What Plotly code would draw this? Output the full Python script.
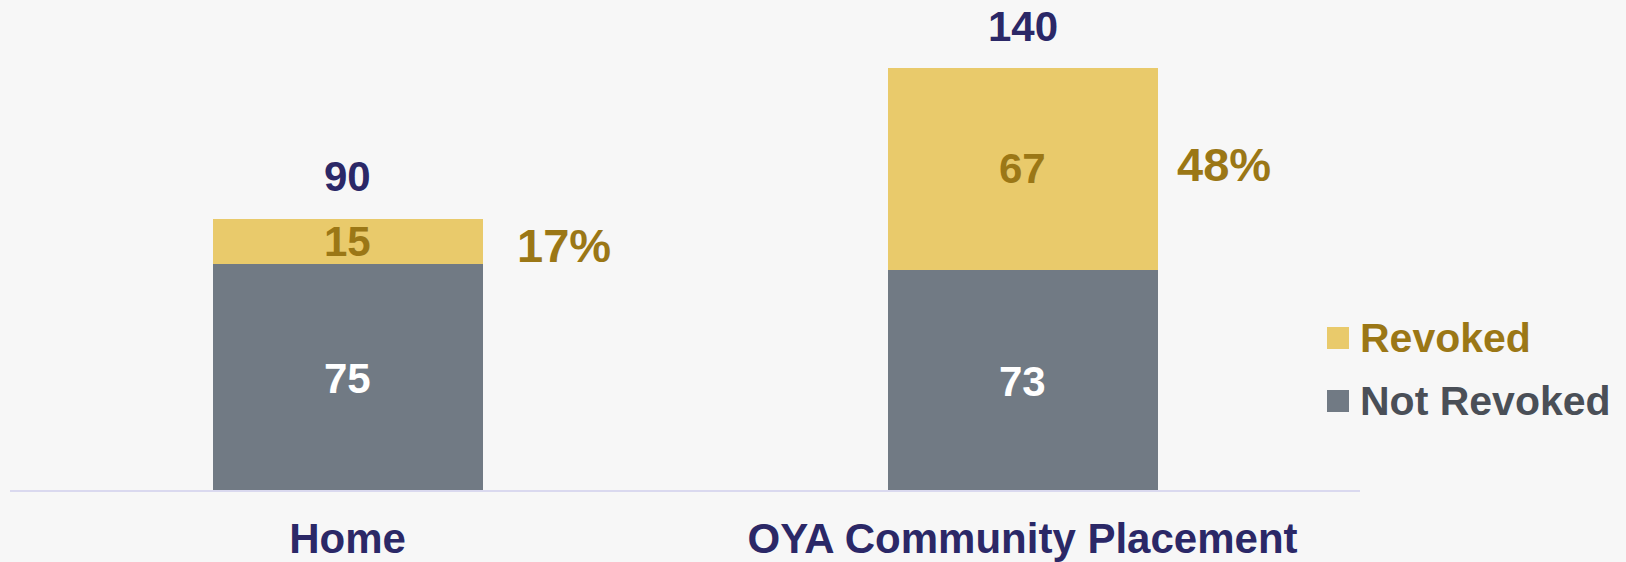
import plotly.graph_objects as go

categories = ["Home", "OYA Community Placement"]
not_revoked = [75, 73]
revoked = [15, 67]
totals = [a + b for a, b in zip(not_revoked, revoked)]
pct_labels = [f"{round(r / t * 100)}%" for r, t in zip(revoked, totals)]

FONT = "Liberation Sans, Arial, sans-serif"
NAVY = "#2B2867"
GOLD_TXT = "#9B7716"
GOLD = "#E9CA6B"
GREY = "#717A84"
GREY_TXT = "#4A4F57"
BG = "#F7F7F7"

x = [0, 1]

fig = go.Figure()
fig.add_trace(go.Bar(x=x, y=not_revoked, name="Not Revoked",
                     marker=dict(color=GREY, line=dict(width=0)), width=0.4, showlegend=False))
fig.add_trace(go.Bar(x=x, y=revoked, name="Revoked",
                     marker=dict(color=GOLD, line=dict(width=0)), width=0.4, showlegend=False))

# segment value labels
for xi, nr, r in zip(x, not_revoked, revoked):
    fig.add_annotation(x=xi, y=nr / 2, text=f"<b>{nr}</b>", showarrow=False, yanchor="middle",
                       yshift=-2, font=dict(family=FONT, size=42, color="white"))
    fig.add_annotation(x=xi, y=nr + r / 2, text=f"<b>{r}</b>", showarrow=False, yanchor="middle",
                       font=dict(family=FONT, size=42, color=GOLD_TXT))
# total labels
for xi, t in zip(x, totals):
    fig.add_annotation(x=xi, y=t, text=f"<b>{t}</b>", showarrow=False, yshift=42,
                       yanchor="middle", font=dict(family=FONT, size=42, color=NAVY))
# percent labels
for xi, nr, r, p, ys, xs in zip(x, not_revoked, revoked, pct_labels, [-4, 4], [32, 17]):
    fig.add_annotation(x=xi + 0.2, y=nr + r / 2, text=f"<b>{p}</b>", showarrow=False,
                       xanchor="left", yanchor="middle", xshift=xs, yshift=ys,
                       font=dict(family=FONT, size=47, color=GOLD_TXT))

# legend (custom)
legend_items = [("Revoked", GOLD, GOLD_TXT, 338), ("Not Revoked", GREY, GREY_TXT, 401)]
for name, col, tcol, yc in legend_items:
    fig.add_shape(type="rect", xref="paper", yref="paper",
                  x0=(1327 - 10) / 1350, x1=(1349 - 10) / 1350,
                  y0=(490 - (yc + 11)) / 490, y1=(490 - (yc - 11)) / 490,
                  fillcolor=col, line=dict(width=0))
    fig.add_annotation(xref="paper", yref="paper", x=(1358 - 10) / 1350, y=(490 - yc) / 490,
                       text=f"<b>{name}</b>", showarrow=False, xanchor="left", yanchor="middle",
                       font=dict(family=FONT, size=41, color=tcol))

fig.update_layout(
    width=1626, height=562,
    margin=dict(l=10, r=266, t=0, b=72),
    paper_bgcolor=BG, plot_bgcolor=BG,
    barmode="stack", showlegend=False,
    xaxis=dict(range=[-0.5, 1.5], tickvals=x, ticktext=[f"<b>{c}</b>" for c in categories],
               tickfont=dict(family=FONT, size=42, color=NAVY), showgrid=False, zeroline=False,
               showline=True, linecolor="#DAD9EF", linewidth=2, ticks="", ticklabelstandoff=11,
               automargin=False),
    yaxis=dict(range=[0, 490 / 3.0143], visible=False, showgrid=False, zeroline=False,
               automargin=False),
)

fig.write_html("out.html", config={"displayModeBar": False},
               post_script="document.body.style.margin='0';document.body.style.background='#F7F7F7';")
